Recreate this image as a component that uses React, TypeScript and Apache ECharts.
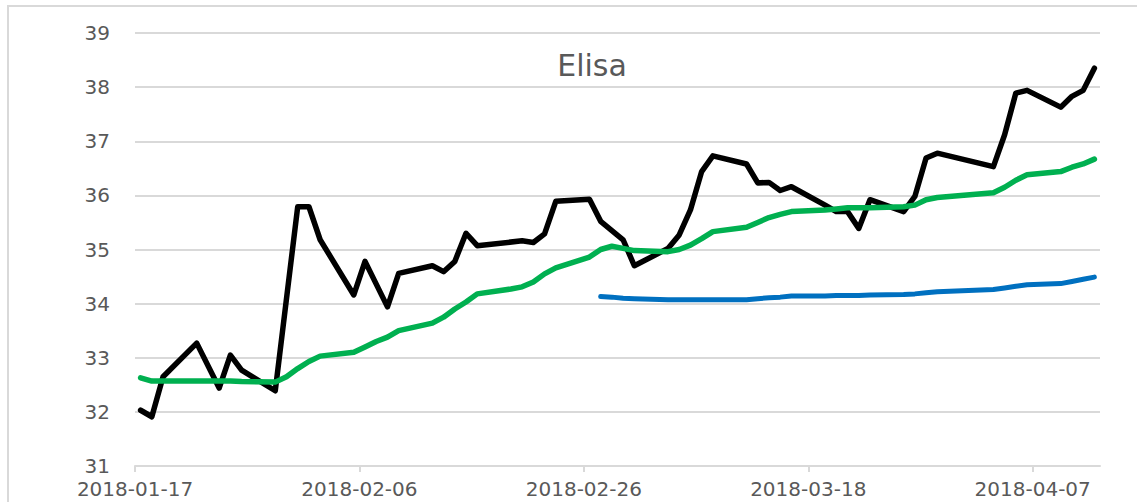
import React, { useEffect, useRef } from "react";
import * as echarts from "echarts";

const START = "2018-01-17";
const xTicks = [0, 20, 40, 60, 80];
const yTicks = [31, 32, 33, 34, 35, 36, 37, 38, 39];

const priceDates = [
  "2018-01-17", "2018-01-18", "2018-01-19", "2018-01-22", "2018-01-24", "2018-01-25", "2018-01-26",
  "2018-01-29", "2018-01-31", "2018-02-01", "2018-02-02", "2018-02-05", "2018-02-06", "2018-02-08",
  "2018-02-09", "2018-02-12", "2018-02-13", "2018-02-14", "2018-02-15", "2018-02-16", "2018-02-20",
  "2018-02-21", "2018-02-22", "2018-02-23", "2018-02-26", "2018-02-27", "2018-03-01", "2018-03-02",
  "2018-03-05", "2018-03-06", "2018-03-07", "2018-03-08", "2018-03-09", "2018-03-12", "2018-03-13",
  "2018-03-14", "2018-03-15", "2018-03-16", "2018-03-19", "2018-03-20", "2018-03-21", "2018-03-22",
  "2018-03-23", "2018-03-26", "2018-03-27", "2018-03-28", "2018-03-29", "2018-04-03", "2018-04-04",
  "2018-04-05", "2018-04-06", "2018-04-09", "2018-04-10", "2018-04-11", "2018-04-12",
];
const priceValues = [
  32.03, 31.91, 32.65, 33.27, 32.44, 33.05, 32.77,
  32.39, 35.79, 35.79, 35.18, 34.16, 34.78, 33.94,
  34.56, 34.70, 34.59, 34.78, 35.30, 35.07, 35.16,
  35.13, 35.29, 35.89, 35.93, 35.52, 35.18, 34.70,
  35.02, 35.27, 35.73, 36.44, 36.73, 36.58, 36.23,
  36.24, 36.09, 36.16, 35.82, 35.70, 35.70, 35.39,
  35.92, 35.70, 35.98, 36.69, 36.78, 36.53, 37.12,
  37.89, 37.94, 37.63, 37.83, 37.94, 38.35,
];

const greenDates = [
  "2018-01-17", "2018-01-18", "2018-01-19", "2018-01-22", "2018-01-23", "2018-01-24", "2018-01-25",
  "2018-01-26", "2018-01-29", "2018-01-30", "2018-01-31", "2018-02-01", "2018-02-02", "2018-02-05",
  "2018-02-06", "2018-02-07", "2018-02-08", "2018-02-09", "2018-02-12", "2018-02-13", "2018-02-14",
  "2018-02-15", "2018-02-16", "2018-02-19", "2018-02-20", "2018-02-21", "2018-02-22", "2018-02-23",
  "2018-02-26", "2018-02-27", "2018-02-28", "2018-03-01", "2018-03-02", "2018-03-05", "2018-03-06",
  "2018-03-07", "2018-03-08", "2018-03-09", "2018-03-12", "2018-03-13", "2018-03-14", "2018-03-15",
  "2018-03-16", "2018-03-19", "2018-03-20", "2018-03-21", "2018-03-22", "2018-03-23", "2018-03-26",
  "2018-03-27", "2018-03-28", "2018-03-29", "2018-04-03", "2018-04-04", "2018-04-05", "2018-04-06",
  "2018-04-09", "2018-04-10", "2018-04-11", "2018-04-12",
];
const greenValues = [
  32.63, 32.57, 32.57, 32.57, 32.57, 32.57, 32.57,
  32.56, 32.55, 32.65, 32.80, 32.93, 33.03, 33.10,
  33.20, 33.30, 33.38, 33.50, 33.64, 33.75, 33.90,
  34.03, 34.18, 34.27, 34.31, 34.40, 34.55, 34.66,
  34.86, 35.00, 35.06, 35.02, 34.98, 34.96, 35.00,
  35.08, 35.20, 35.33, 35.41, 35.50, 35.59, 35.65,
  35.70, 35.73, 35.75, 35.77, 35.77, 35.77, 35.79,
  35.82, 35.92, 35.96, 36.05, 36.15, 36.28, 36.38,
  36.44, 36.52, 36.58, 36.67,
];

const blueDates = [
  "2018-02-27", "2018-02-28", "2018-03-01", "2018-03-02", "2018-03-05", "2018-03-06",
  "2018-03-07", "2018-03-08", "2018-03-09", "2018-03-12", "2018-03-13", "2018-03-14", "2018-03-15",
  "2018-03-16", "2018-03-19", "2018-03-20", "2018-03-21", "2018-03-22", "2018-03-23", "2018-03-26",
  "2018-03-27", "2018-03-28", "2018-03-29", "2018-04-03", "2018-04-04", "2018-04-05", "2018-04-06",
  "2018-04-09", "2018-04-10", "2018-04-11", "2018-04-12",
];
const blueValues = [
  34.13, 34.12, 34.10, 34.09, 34.07, 34.07,
  34.07, 34.07, 34.07, 34.07, 34.09, 34.11, 34.12,
  34.14, 34.14, 34.15, 34.15, 34.15, 34.16, 34.17,
  34.18, 34.20, 34.22, 34.26, 34.29, 34.32, 34.35,
  34.37, 34.41, 34.45, 34.49,
];

const DAY = 86400000;
const startMs = Date.parse(START + "T00:00:00Z");
const toX = (d: string) => (Date.parse(d + "T00:00:00Z") - startMs) / DAY + 0.5;
const pair = (dates: string[], vals: number[]) => dates.map((d, i) => [toX(d), vals[i]]);
const fmtDay = (v: number) => {
  const dt = new Date(startMs + v * DAY);
  const m = String(dt.getUTCMonth() + 1).padStart(2, "0");
  const dd = String(dt.getUTCDate()).padStart(2, "0");
  return `${dt.getUTCFullYear()}-${m}-${dd}`;
};

const FONT = "'DejaVu Sans', Verdana, sans-serif";
const GRID = "#d9d9d9";
const TXT = "#595959";

export default function App() {
  const ref = useRef<HTMLDivElement>(null);
  useEffect(() => {
    if (!ref.current) return;
    const chart = echarts.init(ref.current, undefined, { renderer: "svg" });
    chart.setOption({
      animation: false,
      backgroundColor: "#ffffff",
      grid: { left: 135, right: 37, top: 33, bottom: 36 },
      xAxis: {
        type: "value",
        min: 0,
        max: 86,
        interval: 20,
        axisLine: { show: true, lineStyle: { color: GRID, width: 2 } },
        axisTick: { show: true, length: 6, lineStyle: { color: GRID, width: 2 }, customValues: xTicks },
        axisLabel: {
          customValues: xTicks,
          formatter: (v: number) => fmtDay(v),
          color: TXT,
          fontFamily: FONT,
          fontSize: 20,
          margin: 13,
        },
        splitLine: { show: false },
      },
      yAxis: {
        type: "value",
        min: yTicks[0],
        max: yTicks[yTicks.length - 1],
        interval: 1,
        axisLine: { show: false },
        axisTick: { show: false },
        axisLabel: { color: TXT, fontFamily: FONT, fontSize: 20, margin: 25 },
        splitLine: { show: true, lineStyle: { color: GRID, width: 2 } },
      },
      graphic: [
        {
          type: "rect",
          shape: { x: 8, y: 6, width: 1300, height: 700 },
          style: { fill: "none", stroke: GRID, lineWidth: 2 },
          silent: true,
        },
        {
          type: "text",
          x: 592,
          y: 65,
          style: {
            text: "Elisa",
            font: `30px ${FONT}`,
            fill: TXT,
            textAlign: "center",
            textVerticalAlign: "middle",
          },
        },
      ],
      series: [
        {
          type: "line",
          name: "Elisa",
          data: pair(priceDates, priceValues),
          showSymbol: false,
          lineStyle: { color: "#000000", width: 5.5, join: "round", cap: "round" },
          z: 2,
        },
        {
          type: "line",
          name: "Average",
          data: pair(greenDates, greenValues),
          showSymbol: false,
          lineStyle: { color: "#00b050", width: 5.5, join: "round", cap: "round" },
          z: 3,
        },
        {
          type: "line",
          name: "Average 2",
          data: pair(blueDates, blueValues),
          showSymbol: false,
          lineStyle: { color: "#0070c0", width: 5, join: "round", cap: "round" },
          z: 4,
        },
      ],
    });
    return () => chart.dispose();
  }, []);
  return (
    <div
      ref={ref}
      style={{ position: "fixed", left: 0, top: 0, width: 1137, height: 502, background: "#fff" }}
    />
  );
}
